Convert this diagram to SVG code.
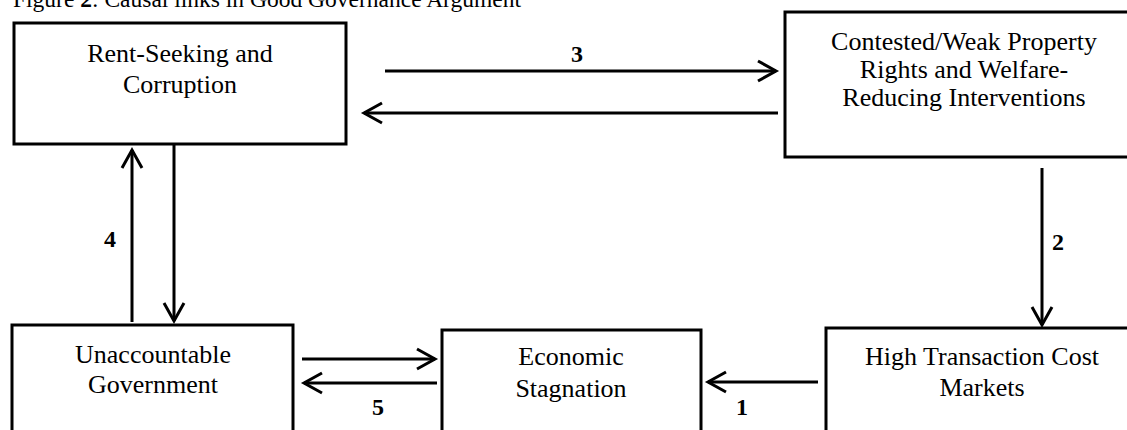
<svg xmlns="http://www.w3.org/2000/svg" width="1127" height="430" viewBox="0 0 1127 430">
<style>
.box{fill:#fff;stroke:#000;stroke-width:3}
.t{font-family:"Liberation Serif","Times New Roman",serif;font-size:26px;fill:#000;text-anchor:middle}
.lbl{font-family:"Liberation Serif","Times New Roman",serif;font-size:24px;font-weight:bold;fill:#000;text-anchor:middle}
.title{font-family:"Liberation Serif","Times New Roman",serif;font-size:23.5px;fill:#000}
.c{stroke:#000;stroke-width:3;fill:none;marker-end:url(#ah)}
</style>
<defs>
<marker id="ah" markerUnits="userSpaceOnUse" markerWidth="40" markerHeight="40" refX="0" refY="0" orient="auto" overflow="visible">
<path d="M-18,-10 L0,0 L-18,10" fill="none" stroke="#000" stroke-width="3"/>
</marker>
</defs>
<rect width="1127" height="430" fill="#fff"/>
<text class="title" x="13" y="7">Figure <tspan font-weight="bold">2</tspan>: Causal links in Good Governance Argument</text>
<g id="rent">
<rect class="box" x="14" y="23" width="332" height="121"/>
<text class="t" x="180" y="62">Rent-Seeking and</text>
<text class="t" x="180" y="93">Corruption</text>
</g>
<g id="contested">
<rect class="box" x="785" y="12" width="360" height="145"/>
<text class="t" x="964" y="50">Contested/Weak Property</text>
<text class="t" x="964" y="78">Rights and Welfare-</text>
<text class="t" x="964" y="106">Reducing Interventions</text>
</g>
<g id="transaction">
<rect class="box" x="826" y="328" width="320" height="120"/>
<text class="t" x="982" y="365">High Transaction Cost</text>
<text class="t" x="982" y="396">Markets</text>
</g>
<g id="unaccountable">
<rect class="box" x="12" y="325" width="281" height="120"/>
<text class="t" x="153" y="363">Unaccountable</text>
<text class="t" x="153" y="393">Government</text>
</g>
<g id="stagnation">
<rect class="box" x="442" y="330" width="259" height="120"/>
<text class="t" x="571" y="365">Economic</text>
<text class="t" x="571" y="397">Stagnation</text>
</g>
<g id="connectors">
<line class="c" x1="385" y1="71" x2="776" y2="71"/>
<line class="c" x1="778" y1="113" x2="364" y2="113"/>
<line class="c" x1="1042" y1="168" x2="1042" y2="325"/>
<line class="c" x1="132" y1="322" x2="132" y2="150"/>
<line class="c" x1="174" y1="144" x2="174" y2="321"/>
<line class="c" x1="302" y1="359" x2="435" y2="359"/>
<line class="c" x1="437" y1="383" x2="304" y2="383"/>
<line class="c" x1="818" y1="382" x2="708" y2="382"/>
<text class="lbl" x="577" y="62">3</text>
<text class="lbl" x="1058" y="250">2</text>
<text class="lbl" x="110" y="247">4</text>
<text class="lbl" x="378" y="415">5</text>
<text class="lbl" x="742" y="415">1</text>
</g>
</svg>
